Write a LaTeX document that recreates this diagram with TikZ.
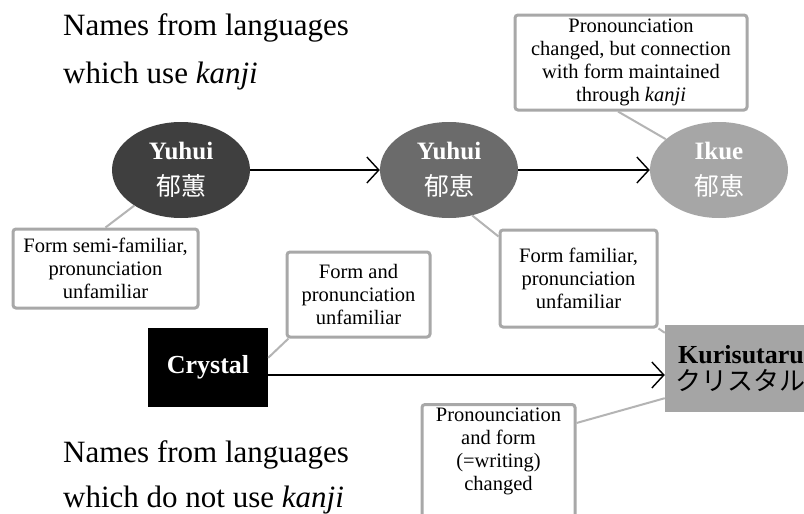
\documentclass[tikz,border=0pt]{standalone}
\usepackage{fontspec}
\setmainfont{Liberation Serif}
\newfontfamily\cjk{Noto Sans CJK JP}
\usetikzlibrary{arrows.meta,shapes.geometric}
\definecolor{boxgray}{HTML}{A8A8A8}
\definecolor{linkgray}{HTML}{B4B4B4}
\definecolor{ellA}{HTML}{3F3F3F}
\definecolor{ellB}{HTML}{6B6B6B}
\definecolor{ellC}{HTML}{A6A6A6}
\definecolor{kurigray}{HTML}{A5A5A5}
\begin{document}
\begin{tikzpicture}[x=1pt,y=-1pt,
  title/.style={anchor=base west,inner sep=0,font=\rmfamily\fontsize{31}{37}\selectfont},
  note/.style={draw=boxgray,line width=3pt,rounded corners=3pt,fill=white,align=center,inner sep=0,font=\rmfamily\fontsize{20.5}{23}\selectfont},
  ell/.style={ellipse,minimum width=138pt,minimum height=96pt,inner sep=0,align=center,text=white,font=\rmfamily\fontsize{25}{36}\selectfont},
  link/.style={draw=linkgray,line width=2pt},
  arr/.style={line width=1.4pt,-{Straight Barb[length=12pt,width=26pt]}}]
\useasboundingbox[fill=white] (0,0) rectangle (804,514);

% titles
\node[title] (t1) at (63,35) {Names from languages};
\node[title] (t2) at (63,83) {which use \textit{kanji}};
\node[title] (t3) at (63,462) {Names from languages};
\node[title] (t4) at (63,507) {which do not use \textit{kanji}};

% ellipses
\node[ell,fill=ellA] (e1) at (181,170) {\textbf{Yuhui}\\{\cjk 郁蕙}};
\node[ell,fill=ellB] (e2) at (449,170) {\textbf{Yuhui}\\{\cjk 郁恵}};
\node[ell,fill=ellC] (e3) at (719,170) {\textbf{Ikue}\\{\cjk 郁恵}};

% crystal and kurisutaru
\node[fill=black,minimum width=120pt,minimum height=79pt,inner sep=0,text=white,font=\rmfamily\fontsize{26}{30}\selectfont\bfseries] (cr) at (208,367.5) {Crystal};
\node[fill=kurigray,minimum width=170pt,minimum height=87pt,inner sep=0] (kuri) at (750,368.5) {};
\node[anchor=base west,inner sep=0,font=\rmfamily\fontsize{26}{30}\selectfont\bfseries] (kuriA) at (678,363) {Kurisutaru};
\node[anchor=base west,inner sep=0,font=\fontsize{26}{30}\selectfont\cjk] (kuriB) at (675,390) {クリスタル};

% notes
\node[note,minimum width=232pt,minimum height=95pt] (b1) at (631,62.5)
  {Pronounciation\\changed, but connection\\with form maintained\\through \textit{kanji}};
\node[note,minimum width=185pt,minimum height=79pt] (b2) at (105.5,268.5)
  {Form semi-familiar,\\pronunciation\\unfamiliar};
\node[note,minimum width=157pt,minimum height=97pt] (b3) at (578.5,278.5)
  {Form familiar,\\pronunciation\\unfamiliar};
\node[note,minimum width=143pt,minimum height=85pt] (b4) at (358.5,294.5)
  {Form and\\pronunciation\\unfamiliar};
\node[note,minimum width=153pt,minimum height=118pt,anchor=north] (b5) at (498.5,403)
  {Pronounciation\\and form\\(=writing)\\changed\\[6pt]};

% links
\draw[link] (b2.north) -- (e1);
\draw[link] ([xshift=-13pt]b1.south) -- (e3);
\draw[link] (e2.297) -- ([yshift=-8pt]b3.north west);
\draw[link] ([xshift=3pt]b4.south west) -- ([yshift=-30pt]cr.north east);
\draw[link] (b3.south east) -- ([yshift=-8pt]kuri.north west);
\draw[link] ([yshift=-20pt]b5.north east) -- ([yshift=14pt]kuri.south west);

% arrows
\draw[arr] (e1) -- (e2);
\draw[arr] (e2) -- (e3);
\draw[arr] ([yshift=-7.5pt]cr.east) -- ([yshift=-7.5pt]cr.east -| kuri.west);
\end{tikzpicture}
\end{document}
